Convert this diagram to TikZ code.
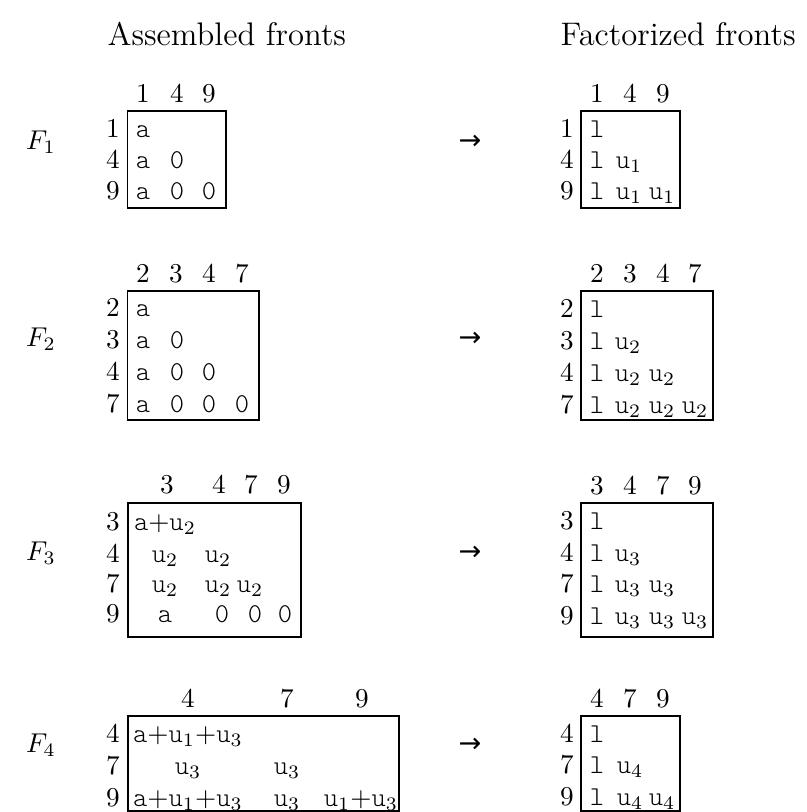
\documentclass[tikz,border=0pt]{standalone}
\usepackage{fontspec}
\setmonofont{lmmonolt10-regular.otf}
\newfontfamily\arrowfont{DejaVu Sans}
\begin{document}
\begin{tikzpicture}[
  x=0.3676pt, y=-0.3676pt,
  hdr/.style={anchor=base, inner sep=0pt},
  ent/.style={anchor=base, inner sep=0pt},
  coltitle/.style={anchor=base west, inner sep=0pt, font=\large},
  flabel/.style={inner sep=0pt},
  arrowsym/.style={inner sep=0pt, font=\arrowfont},
  frontbox/.style={draw, line width=0.4pt},
]
\useasboundingbox (0,0) rectangle (807,812);

%% Titles
\node[coltitle] (asm) at (107,45) {Assembled fronts};
\node[coltitle] (fac) at (560,45) {Factorized fronts};

%% F1
\node[flabel] (f1) at (41,142) {$F_1$};
\node[arrowsym] (arr1) at (470,142) {→};
\foreach \x/\c in {143/1,177/4,209/9} \node[hdr] (a1h\c) at (\x,102) {\c};
\foreach \y/\r in {137/1,168/4,199/9} \node[hdr] (a1r\r) at (113,\y) {\r};
\draw[frontbox] (127.5,111) rectangle (226,208);
\foreach \x/\y/\t [count=\i] in {143/137/a,143/168/a,177/168/0,143/199/a,177/199/0,209/199/0}
  \node[ent] (a1e\i) at (\x,\y) {\texttt{\t}};
\foreach \x/\c in {597/1,630/4,663/9} \node[hdr] (l1h\c) at (\x,102) {\c};
\foreach \y/\r in {137/1,168/4,199/9} \node[hdr] (l1r\r) at (567,\y) {\r};
\draw[frontbox] (581,111) rectangle (680,208);
\foreach \x/\y/\t [count=\i] in {597/137/\texttt{l},597/168/\texttt{l},629/168/$\texttt{u}_1$,
    597/199/\texttt{l},629/199/$\texttt{u}_1$,662/199/$\texttt{u}_1$}
  \node[ent] (l1e\i) at (\x,\y) {\t};

%% F2
\node[flabel] (f2) at (41,339) {$F_2$};
\node[arrowsym] (arr2) at (470,339) {→};
\foreach \x/\c in {143/2,176/3,209/4,242/7} \node[hdr] (a2h\c) at (\x,282) {\c};
\foreach \y/\r in {316/2,348/3,380/4,412/7} \node[hdr] (a2r\r) at (113,\y) {\r};
\draw[frontbox] (127.5,291) rectangle (259,420);
\foreach \x/\y/\t [count=\i] in {143/316/a,143/348/a,177/348/0,143/380/a,177/380/0,209/380/0,
    143/412/a,177/412/0,209/412/0,242/412/0}
  \node[ent] (a2e\i) at (\x,\y) {\texttt{\t}};
\foreach \x/\c in {597/2,630/3,663/4,695/7} \node[hdr] (l2h\c) at (\x,282) {\c};
\foreach \y/\r in {317/2,349/3,381/4,413/7} \node[hdr] (l2r\r) at (567,\y) {\r};
\draw[frontbox] (581,291) rectangle (713,420);
\foreach \x/\y/\t [count=\i] in {597/317/\texttt{l},597/349/\texttt{l},628/349/$\texttt{u}_2$,
    597/381/\texttt{l},628/381/$\texttt{u}_2$,662/381/$\texttt{u}_2$,
    597/413/\texttt{l},628/413/$\texttt{u}_2$,662/413/$\texttt{u}_2$,695/413/$\texttt{u}_2$}
  \node[ent] (l2e\i) at (\x,\y) {\t};

%% F3
\node[flabel] (f3) at (41,553) {$F_3$};
\node[arrowsym] (arr3) at (470,553) {→};
\foreach \x/\c in {167/3,219/4,251/7,284/9} \node[hdr] (a3h\c) at (\x,493) {\c};
\foreach \y/\r in {530/3,562/4,592/7,622/9} \node[hdr] (a3r\r) at (113,\y) {\r};
\draw[frontbox] (128,503) rectangle (301,637);
\foreach \x/\y/\t [count=\i] in {165/530/$\texttt{a}{+}\texttt{u}_2$,
    165/562/$\texttt{u}_2$,218/562/$\texttt{u}_2$,
    165/592/$\texttt{u}_2$,218/592/$\texttt{u}_2$,250/592/$\texttt{u}_2$,
    165/622/\texttt{a},222/622/\texttt{0},255/622/\texttt{0},285/622/\texttt{0}}
  \node[ent] (a3e\i) at (\x,\y) {\t};
\foreach \x/\c in {597/3,630/4,663/7,695/9} \node[hdr] (l3h\c) at (\x,494) {\c};
\foreach \y/\r in {529/3,561/4,592/7,624/9} \node[hdr] (l3r\r) at (567,\y) {\r};
\draw[frontbox] (581,503) rectangle (713,637);
\foreach \x/\y/\t [count=\i] in {597/529/\texttt{l},597/561/\texttt{l},628/561/$\texttt{u}_3$,
    597/592/\texttt{l},628/592/$\texttt{u}_3$,662/592/$\texttt{u}_3$,
    597/624/\texttt{l},628/624/$\texttt{u}_3$,662/624/$\texttt{u}_3$,695/624/$\texttt{u}_3$}
  \node[ent] (l3e\i) at (\x,\y) {\t};

%% F4
\node[flabel] (f4) at (41,745) {$F_4$};
\node[arrowsym] (arr4) at (470,745) {→};
\foreach \x/\c in {188/4,287/7,362/9} \node[hdr] (a4h\c) at (\x,707) {\c};
\foreach \y/\r in {742/4,774/7,806/9} \node[hdr] (a4r\r) at (113,\y) {\r};
\draw[frontbox] (128,716) rectangle (399,811);
\foreach \x/\y/\t [count=\i] in {188/742/$\texttt{a}{+}\texttt{u}_1{+}\texttt{u}_3$,
    188/774/$\texttt{u}_3$,287/774/$\texttt{u}_3$,
    188/806/$\texttt{a}{+}\texttt{u}_1{+}\texttt{u}_3$,287/806/$\texttt{u}_3$,
    361/806/$\texttt{u}_1{+}\texttt{u}_3$}
  \node[ent] (a4e\i) at (\x,\y) {\t};
\foreach \x/\c in {597/4,630/7,663/9} \node[hdr] (l4h\c) at (\x,707) {\c};
\foreach \y/\r in {742/4,773/7,805/9} \node[hdr] (l4r\r) at (567,\y) {\r};
\draw[frontbox] (581,716) rectangle (680,811);
\foreach \x/\y/\t [count=\i] in {597/742/\texttt{l},597/773/\texttt{l},630/773/$\texttt{u}_4$,
    597/805/\texttt{l},630/805/$\texttt{u}_4$,662/805/$\texttt{u}_4$}
  \node[ent] (l4e\i) at (\x,\y) {\t};

\end{tikzpicture}
\end{document}
